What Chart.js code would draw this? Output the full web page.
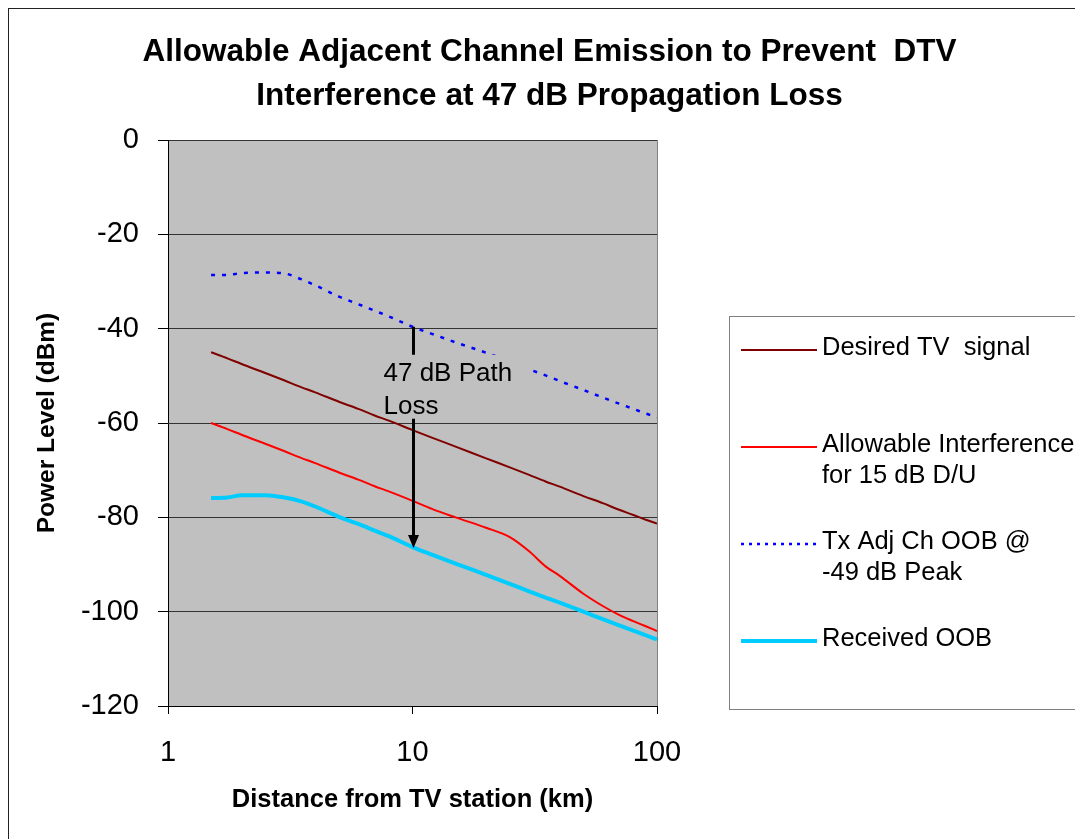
<!DOCTYPE html>
<html>
<head>
<meta charset="utf-8">
<script src="https://cdn.jsdelivr.net/npm/chart.js@4.4.1/dist/chart.umd.min.js"></script>
<style>
    html, body { margin: 0; padding: 0; background: #ffffff; }
    #wrap { width: 1075px; height: 839px; }
</style>
</head>
<body>
<div id="wrap"><canvas id="emission" width="1075" height="839"></canvas></div>
<script>
// ── Data ──────────────────────────────────────────────────

const distanceKm = [1.5, 1.75, 2, 2.5, 3, 3.5, 4, 5, 6, 7, 8, 10, 12, 15, 20, 25, 30, 35, 40, 50, 60, 70, 80, 90, 100];

const desiredSignal         = [-45.0, -46.3, -47.5, -49.4, -51.0, -52.4, -53.5, -55.5, -57.0, -58.4, -59.5, -61.5, -63.1, -65.0, -67.5, -69.4, -71.0, -72.4, -73.5, -75.5, -77.0, -78.4, -79.5, -80.5, -81.3];
const allowableInterference = [-60.0, -61.3, -62.5, -64.4, -66.0, -67.4, -68.5, -70.5, -72.0, -73.4, -74.5, -76.5, -78.2, -80.0, -82.2, -84.2, -87.2, -90.4, -92.4, -96.2, -98.8, -100.7, -102.0, -103.1, -104.1];
const txAdjChOob            = [-28.6, -28.6, -28.2, -28.1, -28.3, -29.5, -30.8, -33.2, -34.8, -36.2, -37.4, -39.6, -41.1, -42.9, -45.1, -46.9, -48.6, -49.9, -51.1, -53.0, -54.6, -55.9, -57.0, -58.0, -58.8];
const receivedOob           = [-75.9, -75.8, -75.3, -75.3, -75.8, -76.6, -77.7, -79.9, -81.4, -82.8, -84.0, -86.3, -87.9, -89.8, -92.2, -94.1, -95.7, -97.0, -98.1, -100.0, -101.6, -102.9, -104.0, -105.0, -105.9];

const xTickValues = [1, 10, 100];

const titleLines = ['Allowable Adjacent Channel Emission to Prevent  DTV', 'Interference at 47 dB Propagation Loss'];

const legendLabels = [
    ['Desired TV  signal'],
    ['Allowable Interference', 'for 15 dB D/U'],
    ['Tx Adj Ch OOB @', '-49 dB Peak'],
    ['Received OOB']
];

// path loss annotation: from Tx OOB down to received OOB at 10 km
const pathLossAt    = 10;
const pathLossFrom  = -39.6;
const pathLossTo    = -86.5;
const pathLossLabel = ['47 dB Path', 'Loss'];

// ── Helpers ───────────────────────────────────────────────

const FONT = '"Liberation Sans", Arial, Helvetica, sans-serif';
const PLOT_BG = '#c0c0c0';

function toPoints(values) {
    return distanceKm.map((d, i) => ({ x: d, y: values[i] }));
}

// ── Plugins ───────────────────────────────────────────────

const backdropPlugin = {
    id: 'backdrop',
    beforeDraw(chart) {
        const { ctx, chartArea: a } = chart;
        ctx.save();
        ctx.fillStyle = '#ffffff';
        ctx.fillRect(0, 0, chart.width, chart.height);
        ctx.strokeStyle = '#222222';
        ctx.lineWidth = 1;
        ctx.strokeRect(8.5, 8.5, chart.width + 20, chart.height + 20);
        ctx.fillStyle = PLOT_BG;
        ctx.fillRect(a.left, a.top, a.right - a.left, a.bottom - a.top);
        ctx.restore();
    },
    afterDraw(chart) {
        const { ctx, chartArea: a } = chart;
        ctx.save();
        ctx.strokeStyle = '#808080';
        ctx.lineWidth = 1;
        ctx.beginPath();
        ctx.moveTo(a.right + 0.5, a.top);
        ctx.lineTo(a.right + 0.5, a.bottom);
        ctx.stroke();
        ctx.restore();
    }
};

const pathLossPlugin = {
    id: 'pathLoss',
    afterDatasetsDraw(chart) {
        const ctx = chart.ctx;
        const x   = Math.round(chart.scales.x.getPixelForValue(pathLossAt)) + 0.5;
        const y0  = chart.scales.y.getPixelForValue(pathLossFrom);
        const y1  = chart.scales.y.getPixelForValue(pathLossTo);
        const boxTop = y0 + 28, boxBottom = y0 + 90;

        ctx.save();
        // label box hides the line behind it
        ctx.fillStyle = PLOT_BG;
        ctx.fillRect(x - 31, boxTop, 146, boxBottom - boxTop);

        ctx.strokeStyle = '#000000';
        ctx.lineWidth = 3;
        ctx.beginPath();
        ctx.moveTo(x, y0);
        ctx.lineTo(x, boxTop);
        ctx.moveTo(x, boxBottom + 2);
        ctx.lineTo(x, y1 - 10);
        ctx.stroke();

        ctx.fillStyle = '#000000';
        ctx.beginPath();
        ctx.moveTo(x - 5.5, y1 - 13);
        ctx.lineTo(x + 5.5, y1 - 13);
        ctx.lineTo(x, y1);
        ctx.closePath();
        ctx.fill();

        ctx.font = '26px ' + FONT;
        ctx.textAlign = 'left';
        ctx.textBaseline = 'alphabetic';
        pathLossLabel.forEach((line, i) => ctx.fillText(line, x - 30, boxTop + 26 + i * 33));
        ctx.restore();
    }
};

const sideLegendPlugin = {
    id: 'sideLegend',
    afterDraw(chart) {
        const ctx    = chart.ctx;
        const left   = chart.chartArea.right + 72;
        const top    = 316;
        const bottom = 709;

        ctx.save();
        ctx.strokeStyle = '#808080';
        ctx.lineWidth = 1;
        ctx.strokeRect(left + 0.5, top + 0.5, chart.width, bottom - top);

        ctx.font = '25.5px ' + FONT;
        ctx.textAlign = 'left';
        ctx.textBaseline = 'middle';

        chart.data.datasets.forEach((ds, i) => {
            const y = top + 34 + i * 97;
            ctx.strokeStyle = ds.borderColor;
            ctx.lineWidth = ds.borderWidth;
            ctx.setLineDash(ds.legendDash || []);
            ctx.beginPath();
            ctx.moveTo(left + 12, y);
            ctx.lineTo(left + 88, y);
            ctx.stroke();
            ctx.setLineDash([]);

            ctx.fillStyle = '#000000';
            legendLabels[i].forEach((line, j) => ctx.fillText(line, left + 93, y - 2 + j * 31));
        });
        ctx.restore();
    }
};

// ── Chart ─────────────────────────────────────────────────

function renderEmissionChart() {
    const ctx = document.getElementById('emission').getContext('2d');

    new Chart(ctx, {
        type: 'line',
        plugins: [backdropPlugin, pathLossPlugin, sideLegendPlugin],
        data: {
            datasets: [
                { label: legendLabels[0].join(' '), data: toPoints(desiredSignal),
                  borderColor: '#800000', borderWidth: 2 },
                { label: legendLabels[1].join(' '), data: toPoints(allowableInterference),
                  borderColor: '#ff0000', borderWidth: 2 },
                { label: legendLabels[2].join(' '), data: toPoints(txAdjChOob),
                  borderColor: '#0000ff', borderWidth: 2.5, borderDash: [4, 7], legendDash: [3, 5] },
                { label: legendLabels[3].join(' '), data: toPoints(receivedOob),
                  borderColor: '#00ccff', borderWidth: 4 }
            ]
        },
        options: {
            responsive: false,
            animation: false,
            devicePixelRatio: 1,
            layout: { padding: { left: 24, right: 0, top: 0, bottom: 0 } },
            elements: {
                point: { radius: 0 },
                line:  { cubicInterpolationMode: 'monotone', fill: false }
            },
            plugins: {
                legend:  { display: false },
                tooltip: { enabled: false },
                title: {
                    display: true,
                    text: titleLines,
                    color: '#000000',
                    font: { family: FONT, size: 31.5, weight: 'bold', lineHeight: 44 / 31.5 },
                    padding: { top: 30, bottom: 22 }
                }
            },
            scales: {
                x: {
                    type: 'logarithmic',
                    position: 'bottom',
                    min: 1,
                    max: 100,
                    afterBuildTicks(scale) { scale.ticks = xTickValues.map(v => ({ value: v })); },
                    afterFit(scale) { scale.height = 133; },
                    ticks: {
                        color: '#000000',
                        padding: 22,
                        maxRotation: 0,
                        autoSkip: false,
                        font: { family: FONT, size: 29 },
                        callback: v => String(v)
                    },
                    grid:   { drawOnChartArea: false, tickLength: 8, color: '#000000' },
                    border: { color: '#000000', width: 1 },
                    title: {
                        display: true,
                        text: 'Distance from TV station (km)',
                        color: '#000000',
                        font: { family: FONT, size: 25.5, weight: 'bold' },
                        padding: { top: 0, bottom: 24 }
                    }
                },
                y: {
                    min: -120,
                    max: 0,
                    afterFit(scale) { scale.width = 144; },
                    ticks: {
                        stepSize: 20,
                        color: '#000000',
                        padding: 19,
                        font: { family: FONT, size: 29 }
                    },
                    grid:   { color: '#333333', tickColor: '#000000', tickLength: 10, lineWidth: 1 },
                    border: { color: '#000000', width: 1 },
                    title: {
                        display: true,
                        text: 'Power Level (dBm)',
                        color: '#000000',
                        font: { family: FONT, size: 24.5, weight: 'bold' },
                        padding: { top: 9, bottom: 0 }
                    }
                },
                legendSpace: {
                    position: 'right',
                    display: true,
                    ticks:  { display: false },
                    grid:   { display: false },
                    border: { display: false },
                    afterFit(scale) { scale.width = 418; }
                }
            }
        }
    });
}

renderEmissionChart();
</script>
</body>
</html>
